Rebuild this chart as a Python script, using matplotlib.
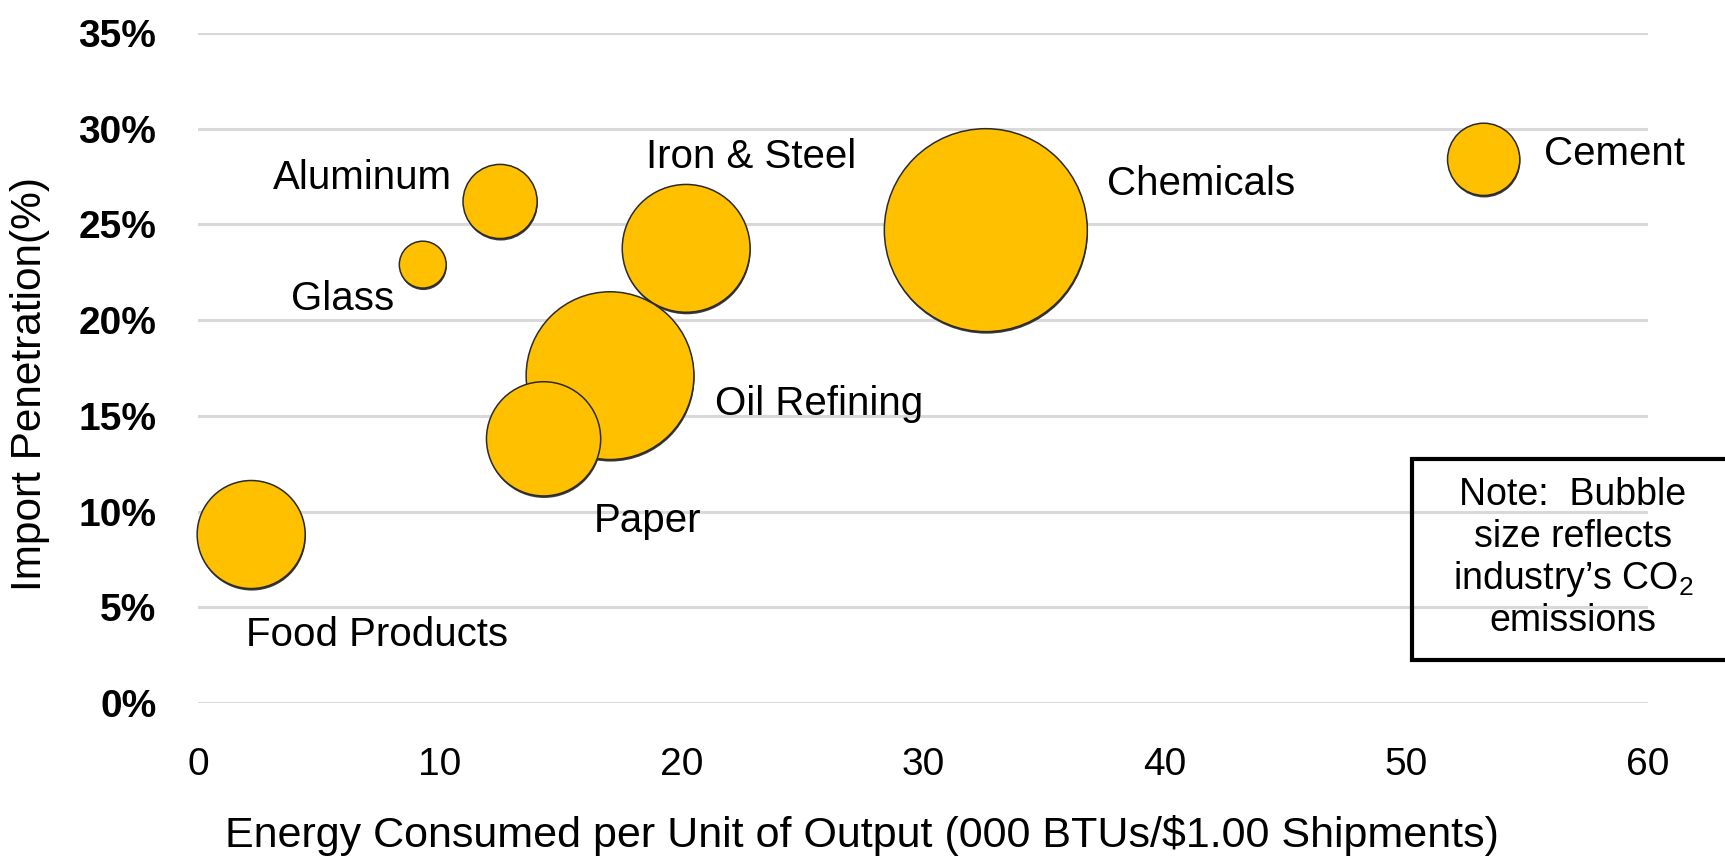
import matplotlib
matplotlib.use("Agg")
import matplotlib.pyplot as plt
from matplotlib.lines import Line2D
from matplotlib.transforms import offset_copy
from matplotlib.ticker import FuncFormatter

plt.rcParams['font.family'] = ['Liberation Sans', 'DejaVu Sans']
plt.rcParams['mathtext.fontset'] = 'custom'
plt.rcParams['mathtext.rm'] = 'Liberation Sans'
plt.rcParams['mathtext.it'] = 'Liberation Sans'

# ---- data ----
industries = ["Chemicals", "Cement", "Aluminum", "Glass", "Iron & Steel",
              "Oil Refining", "Paper", "Food Products"]
energy = [32.6, 53.2, 12.5, 9.3, 20.2, 17.05, 14.3, 2.2]        # 000 BTUs / $1.00 shipments
import_pen = [24.7, 28.4, 26.2, 22.9, 23.75, 17.1, 13.8, 8.8]   # %
co2 = [300, 38, 40, 16, 119, 205, 95, 85]                       # relative CO2 emissions

label_x = [41.5, 58.6, 6.8, 6.0, 22.9, 25.7, 18.6, 7.4]
label_y = [27.1, 28.7, 27.45, 21.1, 28.5, 15.6, 9.5, 3.55]

x_ticks = [0, 10, 20, 30, 40, 50, 60]
y_ticks = [0, 5, 10, 15, 20, 25, 30, 35]

W, H, DPI = 1725, 856, 100
fig = plt.figure(figsize=(W / DPI, H / DPI), dpi=DPI)
ax = fig.add_axes([198 / W, 1 - 703 / H, (1648 - 198) / W, (703 - 33) / H])

ax.set_xlim(0, 60)
ax.set_ylim(0, 35)
ax.set_xticks(x_ticks)
ax.set_yticks(y_ticks)
ax.yaxis.set_major_formatter(FuncFormatter(lambda v, p: f"{int(v)}%"))
ax.grid(axis='y', color='#d9d9d9', lw=2.2)
ax.set_axisbelow(True)
for s in ax.spines.values():
    s.set_visible(False)
ax.tick_params(length=0, labelsize=28, colors='black')
ax.tick_params(axis='y', pad=30)
ax.tick_params(axis='x', pad=32)
for t in ax.get_yticklabels():
    t.set_fontweight('bold')

scale = 71.2
sizes = [c * scale for c in co2]
shadow = offset_copy(ax.transData, fig=fig, x=0.6, y=-2.0, units='dots')
ax.scatter(energy, import_pen, s=sizes, color='#3a3a3a', linewidths=0,
           transform=shadow, zorder=2, clip_on=False)
ax.scatter(energy, import_pen, s=sizes, color='#FFC000', edgecolors='#2b2b2b',
           linewidths=1.1, zorder=3, clip_on=False)

for name, lx, ly in zip(industries, label_x, label_y):
    ax.text(lx, ly, name, fontsize=29, ha='center', va='center', zorder=4)

ax.set_xlabel("Energy Consumed per Unit of Output (000 BTUs/$1.00 Shipments)",
              fontsize=31, va='center')
ax.xaxis.set_label_coords(0.458, (703 - 836) / 670)
ax.set_ylabel("Import Penetration(%)", fontsize=30.5, va='center')
ax.yaxis.set_label_coords((30 - 198) / 1450, (703 - 384) / 670)

# note box (open on the right, running past the figure edge)
bx0, bx1 = 1412 / W, 1780 / W
by0, by1 = 1 - 660 / H, 1 - 459 / H
box = Line2D([bx1, bx0, bx0, bx1], [by1, by1, by0, by0], transform=fig.transFigure,
             color='black', lw=3, solid_joinstyle='miter', solid_capstyle='butt')
fig.lines.append(box)
note_lines = ["Note:  Bubble", "size reflects", "industry\u2019s CO$_2$", "emissions"]
note_base = [505, 547, 589, 631]
for line, yb in zip(note_lines, note_base):
    fig.text(1573 / W, 1 - yb / H, line, fontsize=27, ha='center', va='baseline')

fig.savefig("out.png", dpi=DPI)
